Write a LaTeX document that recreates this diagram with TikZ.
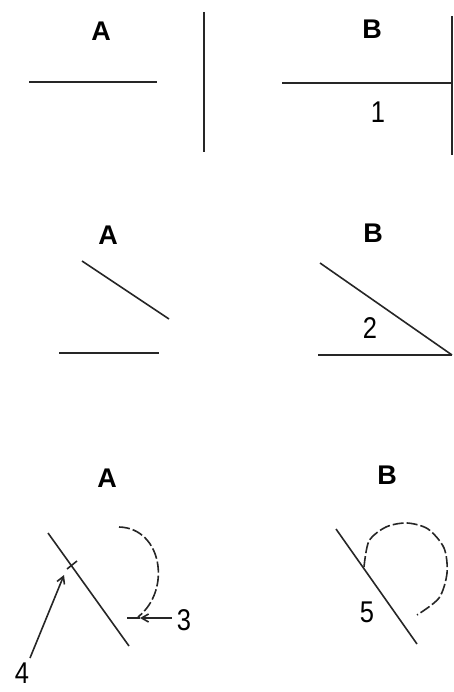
\documentclass[tikz,border=0pt]{standalone}
\usepackage{fontspec}
\setmainfont{Liberation Sans}
\usetikzlibrary{arrows.meta}

\begin{document}
\begin{tikzpicture}[x=1pt, y=-1pt,
          seg/.style={line width=1.6pt, black!85},
          dashseg/.style={line width=1.6pt, black!85, dash pattern=on 11pt off 3pt},
          head/.style={font=\fontsize{27}{27}\selectfont\bfseries, inner sep=0pt},
          num/.style={font=\fontsize{30}{30}\selectfont, inner sep=0pt, xscale=0.85},
          arr/.style={-{Straight Barb[length=7pt, width=8pt]}, line width=1.6pt, black!85}
        ]
  \useasboundingbox (0,0) rectangle (454,692);
  % row 1
  \node[head] (a1) at (101,31) {A};
  \node[head] (b1) at (372,29) {B};
  \draw[seg] (29,82) coordinate (a1l) -- (157,82) coordinate (a1r);
  \draw[seg] (204,12) coordinate (a1t) -- (204,152) coordinate (a1b);
  \draw[seg] (282,83) coordinate (b1l) -- (452,83) coordinate (b1r);
  \draw[seg] (452,16) coordinate (b1t) -- (452,155) coordinate (b1b);
  \node[num] (n1) at (378,112) {1};
  % row 2
  \node[head] (a2) at (108,235) {A};
  \node[head] (b2) at (373,233) {B};
  \draw[seg] (82,261) coordinate (a2s) -- (169,319) coordinate (a2e);
  \draw[seg] (59,353) coordinate (a2l) -- (159,353) coordinate (a2r);
  \draw[seg] (320,263) coordinate (b2s) -- (452,355) coordinate (b2e);
  \draw[seg] (318,355) coordinate (b2l) -- (b2e);
  \node[num] (n2) at (370,328) {2};
  % row 3
  \node[head] (a3) at (107,478) {A};
  \node[head] (b3) at (387,475) {B};
  \draw[seg] (48,533) coordinate (a3s) -- (129,646) coordinate (a3e);
  \draw[seg] (67,569) -- (77,561);
  \draw[dashseg] (119,527) .. controls (162,528) and (172,590) .. (138,617) coordinate (a3c);
  \node[num] (n3) at (184,620) {3};
  \node[num] (n4) at (22,673) {4};
  \coordinate (t3) at (140,618);
  \draw[arr] (n3.west) ++(-5,-2) -- (t3);
  \draw[seg] (t3) -- (127,618);
  \draw[arr] (30,658) -- (64,575) coordinate (t4);
  \draw[seg] (336,529) coordinate (b3s) -- (417,644) coordinate (b3e);
  \draw[dashseg] plot[smooth] coordinates {(364,567) (369,541) (386,527) (407,523) (428,529) (444,548) (447,573) (439,598) (417,615)};
  \node[num] (n5) at (367,612) {5};
\end{tikzpicture}
\end{document}
